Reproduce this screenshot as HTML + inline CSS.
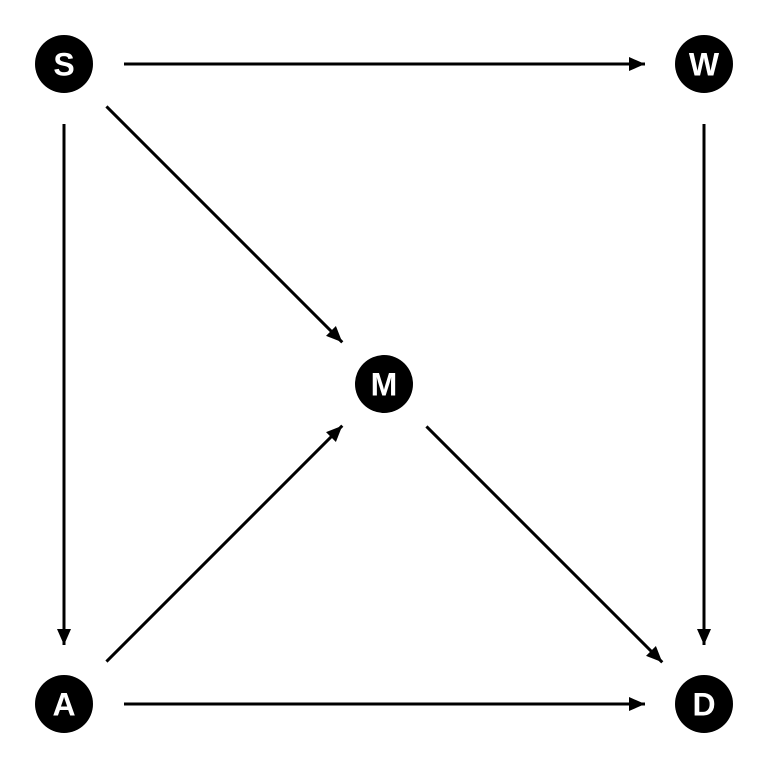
<!DOCTYPE html>
<html><head><meta charset="utf-8"><style>body{margin:0;background:#fff}svg{display:block}</style></head>
<body>
<svg width="768" height="768" viewBox="0 0 768 768">
<defs><marker id="ah" viewBox="0 0 16 14" refX="16" refY="7" markerWidth="16" markerHeight="14" markerUnits="userSpaceOnUse" orient="auto"><path d="M0,0 L16,7 L0,14 Z" fill="#000"/></marker></defs>
<g id="edges"></g><g id="nodes"></g>
</svg>
<script>
const nodeNames=["S","W","M","A","D"];
const nodeX=[0,1,0.5,0,1];
const nodeY=[0,0,0.5,1,1];
const edgeFrom=["S","S","S","W","A","M","A"];
const edgeTo=["W","M","A","D","M","D","D"];
const px=v=>64+v*640, py=v=>64+v*640;
const NS="http://www.w3.org/2000/svg";
const eg=document.getElementById('edges'), ng=document.getElementById('nodes');
const idx=n=>nodeNames.indexOf(n);
edgeFrom.forEach((f,i)=>{
  const a=idx(f),b=idx(edgeTo[i]);
  const x1=px(nodeX[a]),y1=py(nodeY[a]),x2=px(nodeX[b]),y2=py(nodeY[b]);
  const dx=x2-x1,dy=y2-y1,L=Math.hypot(dx,dy),ux=dx/L,uy=dy/L;
  const l=document.createElementNS(NS,'line');
  l.setAttribute('x1',x1+ux*60);l.setAttribute('y1',y1+uy*60);
  l.setAttribute('x2',x2-ux*59);l.setAttribute('y2',y2-uy*59);
  l.setAttribute('stroke','#000');l.setAttribute('stroke-width','3');
  l.setAttribute('marker-end','url(#ah)');
  
  
  eg.appendChild(l);
});
nodeNames.forEach((n,i)=>{
  const g=document.createElementNS(NS,'g');
  
  
  const c=document.createElementNS(NS,'circle');
  c.setAttribute('cx',px(nodeX[i]));c.setAttribute('cy',py(nodeY[i]));c.setAttribute('r','29');c.setAttribute('fill','#000');
  const t=document.createElementNS(NS,'text');
  t.setAttribute('x',px(nodeX[i]));t.setAttribute('y',py(nodeY[i])+11.5);
  t.setAttribute('text-anchor','middle');t.setAttribute('fill','#fff');
  t.setAttribute('font-family','Liberation Sans, sans-serif');t.setAttribute('font-weight','bold');t.setAttribute('font-size','32');
  t.textContent=n;
  g.appendChild(c);g.appendChild(t);ng.appendChild(g);
});
</script>
</body></html>
